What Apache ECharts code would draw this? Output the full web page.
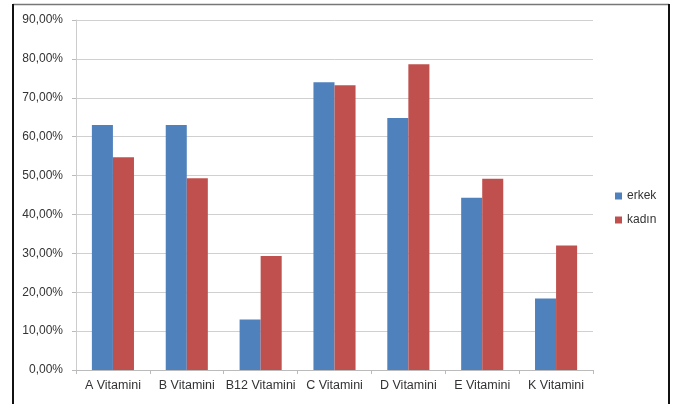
<!DOCTYPE html>
<html><head><meta charset="utf-8">
<script src="https://cdn.jsdelivr.net/npm/echarts@6/dist/echarts.min.js"></script>
<style>html,body{margin:0;padding:0;background:#fff}#c{width:676px;height:404px}</style>
</head><body><div id="c"></div>
<script>
const categories = ['A Vitamini','B Vitamini','B12 Vitamini','C Vitamini','D Vitamini','E Vitamini','K Vitamini'];
const erkek = [63.0, 63.0, 13.0, 74.0, 64.8, 44.3, 18.4];
const kadin = [54.7, 49.3, 29.3, 73.2, 78.6, 49.2, 32.0];
const seriesNames = ['erkek','kadın'];
const font = 'Liberation Sans';
const chart = echarts.init(document.getElementById('c'));
chart.setOption({
  animation:false,
  backgroundColor:'#fff',
  graphic:[
    {type:'line',shape:{x1:13,y1:4.5,x2:669,y2:4.5},style:{stroke:'#777',lineWidth:1.5},silent:true},
    {type:'line',shape:{x1:13,y1:4,x2:13,y2:404},style:{stroke:'#111',lineWidth:2},silent:true},
    {type:'line',shape:{x1:669,y1:4,x2:669,y2:404},style:{stroke:'#111',lineWidth:2},silent:true}
  ],
  legend:{orient:'vertical',left:610,top:185,itemWidth:7,itemHeight:7,itemGap:12,icon:'rect',
    textStyle:{fontFamily:font,fontSize:12,color:'#333'},data:seriesNames},
  grid:{left:76,right:83,top:20,bottom:34},
  xAxis:{type:'category',data:categories,
    axisLine:{lineStyle:{color:'#bbb'}},
    axisTick:{show:true,length:4,lineStyle:{color:'#bbb'}},
    axisLabel:{fontFamily:font,fontSize:12.5,color:'#333',margin:9,interval:0}},
  yAxis:{type:'value',min:0,max:90,interval:10,
    axisLine:{show:true,lineStyle:{color:'#ccc'}},
    axisTick:{show:true,length:4,lineStyle:{color:'#bbb'}},
    splitLine:{lineStyle:{color:'#d0d0d0'}},
    axisLabel:{fontFamily:font,fontSize:12,color:'#333',margin:13,
      formatter:v=>v.toFixed(2).replace('.',',')+'%'}},
  series:[
    {name:seriesNames[0],type:'bar',data:erkek,itemStyle:{color:'#4F81BD'},barGap:'0%',barCategoryGap:'43%'},
    {name:seriesNames[1],type:'bar',data:kadin,itemStyle:{color:'#C0504D'},barGap:'0%',barCategoryGap:'43%'}
  ]
});
</script></body></html>
